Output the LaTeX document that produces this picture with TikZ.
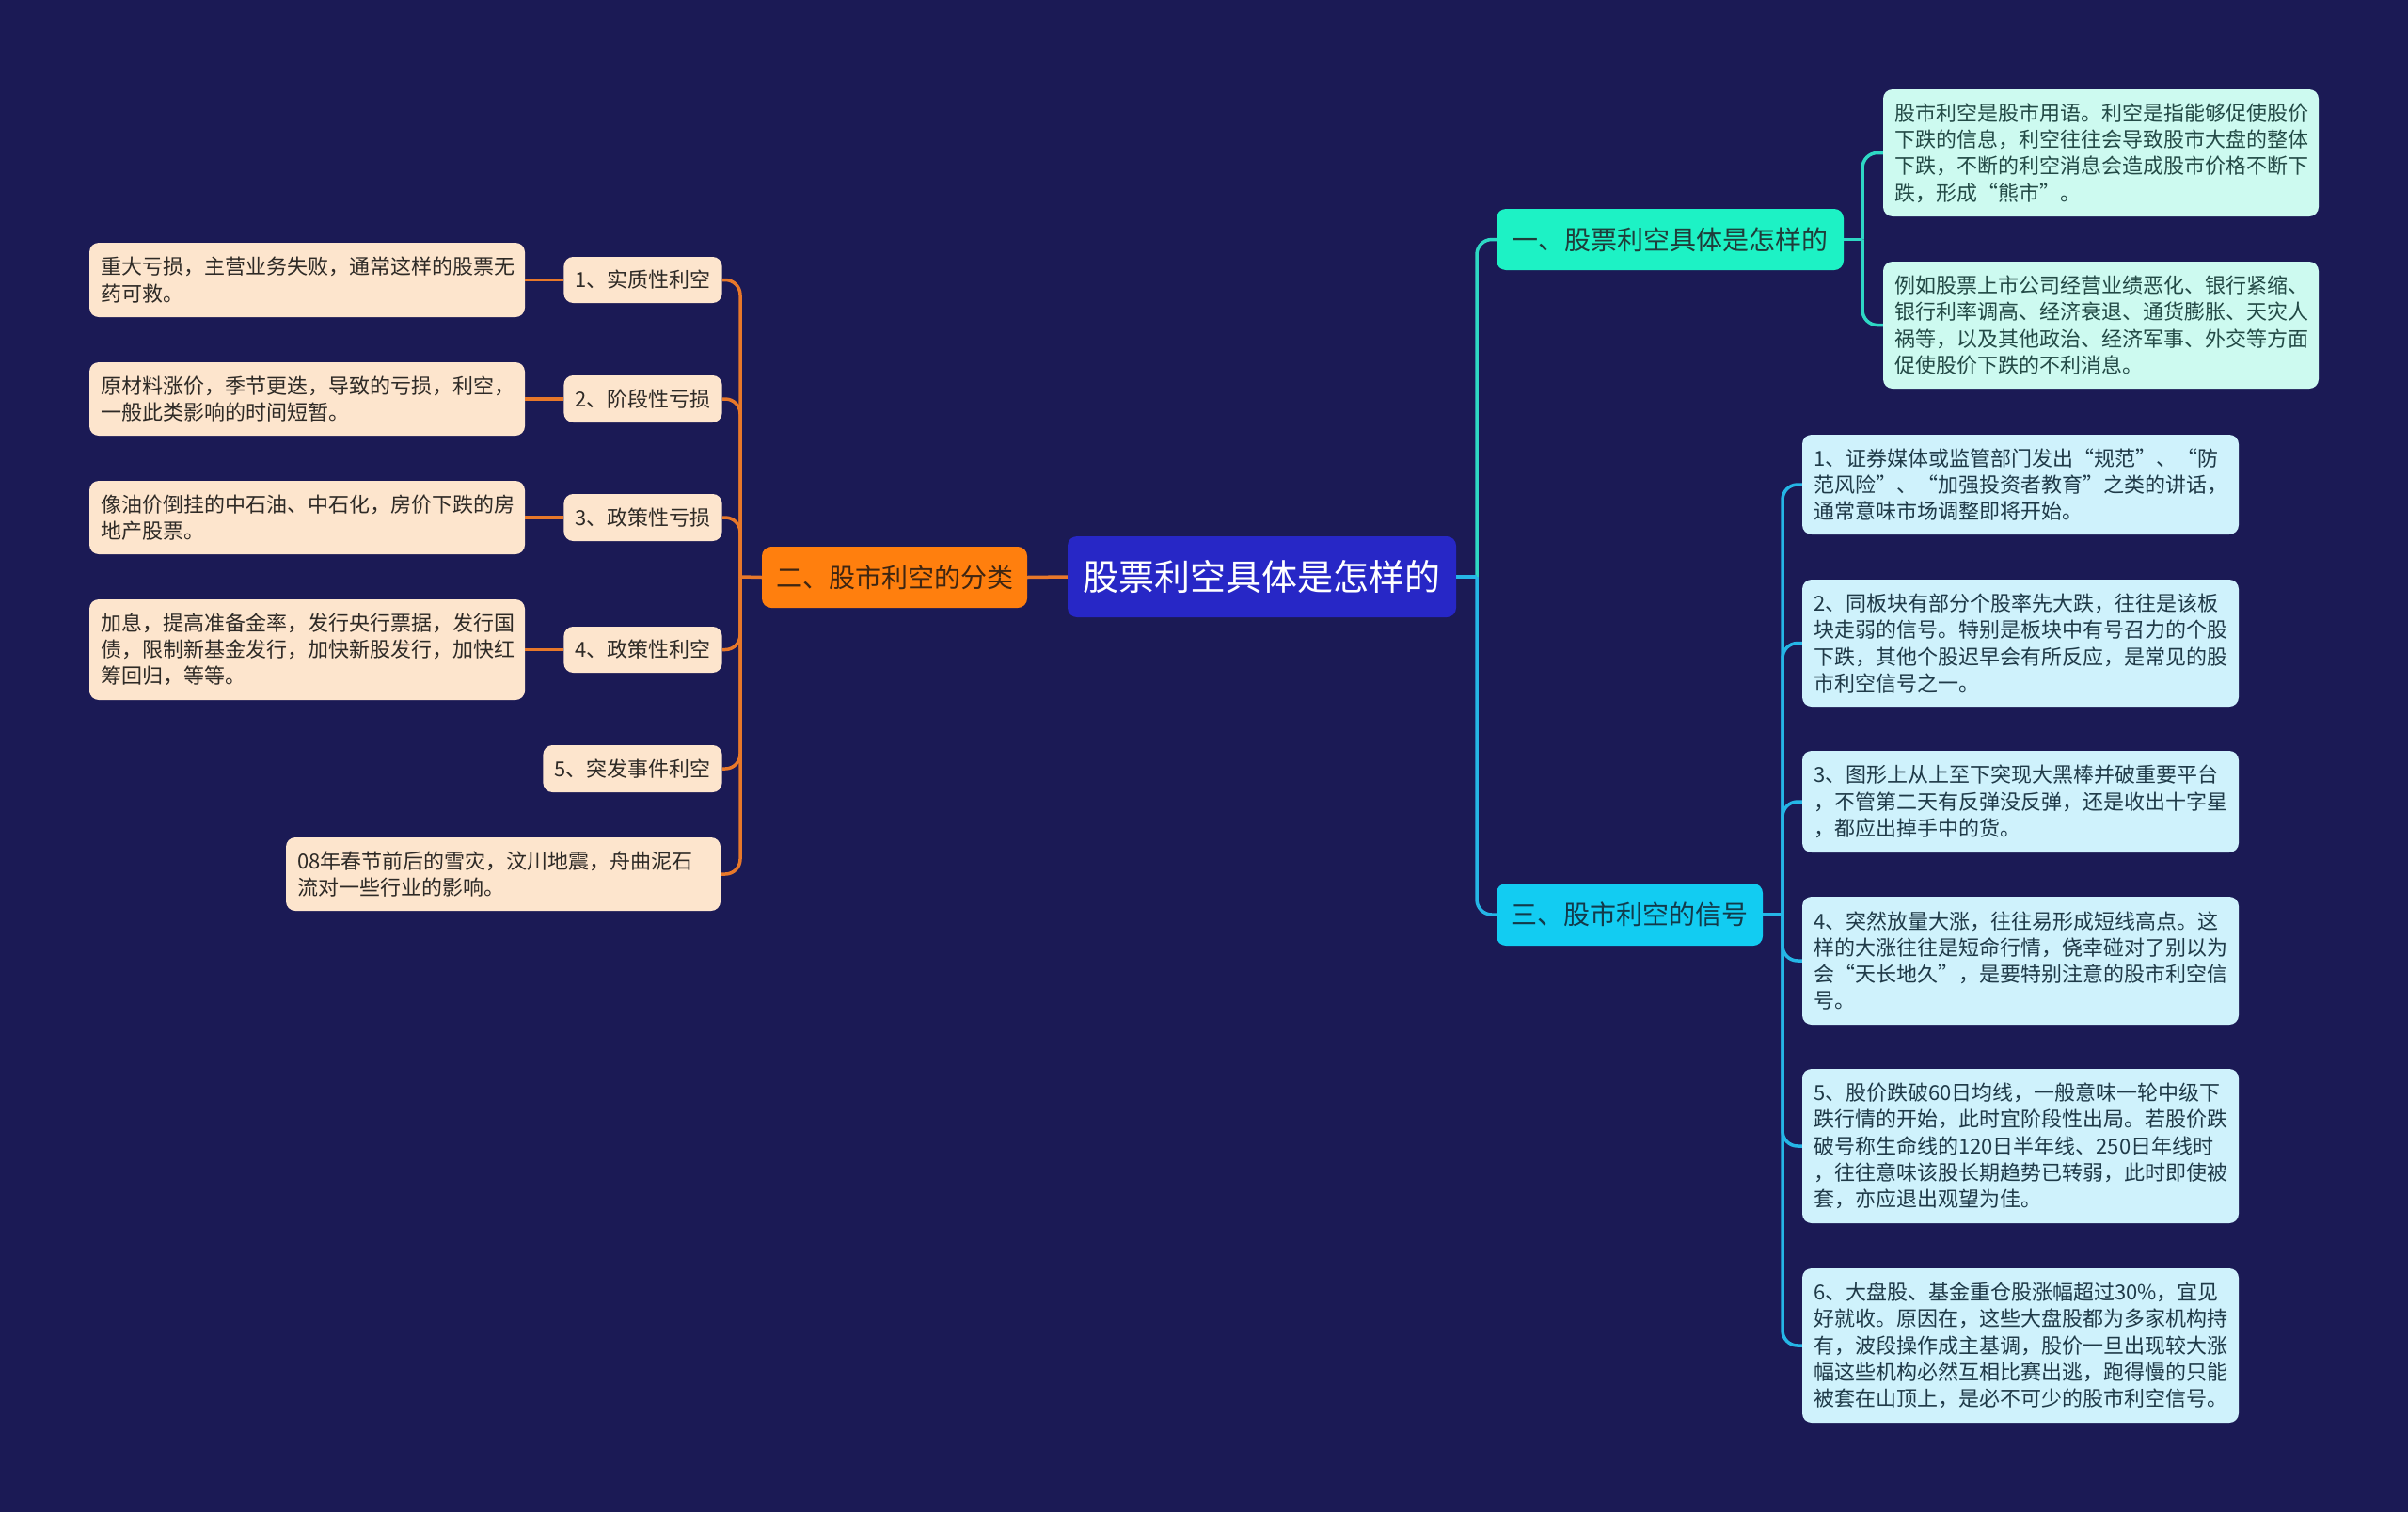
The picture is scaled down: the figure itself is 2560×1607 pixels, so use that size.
\documentclass[tikz,border=0pt]{standalone}
\usepackage{fontspec}
\setmainfont{Noto Sans CJK SC}
\definecolor{bgc}{HTML}{1B1A55}
\definecolor{rootc}{HTML}{2727C6}
\definecolor{orgc}{HTML}{FF7F0E}
\definecolor{orgtxt}{HTML}{3F2612}
\definecolor{orgleaf}{HTML}{FDE5CD}
\definecolor{orgline}{HTML}{E8782A}
\definecolor{leaftxt}{HTML}{2E2A26}
\definecolor{tealc}{HTML}{1DF2C5}
\definecolor{tealtxt}{HTML}{1F3D3A}
\definecolor{tealleaf}{HTML}{CDFAF0}
\definecolor{tealleaftxt}{HTML}{234A46}
\definecolor{tealline}{HTML}{2ED8C4}
\definecolor{bluec}{HTML}{12CCF2}
\definecolor{bluetxt}{HTML}{123A4A}
\definecolor{blueleaf}{HTML}{CFF2FC}
\definecolor{blueleaftxt}{HTML}{1F3A48}
\definecolor{blueline}{HTML}{25B6E6}
\tikzset{
  boxbase/.style={rounded corners=10pt, inner xsep=12pt, inner ysep=0pt},
  rootbox/.style={boxbase, fill=rootc, text=white, font={\fontsize{38}{44}\selectfont}, align=center},
  catbox/.style={boxbase, font={\fontsize{28}{34}\selectfont}, align=center},
  subbox/.style={boxbase, fill=orgleaf, text=leaftxt, font={\fontsize{22}{28}\selectfont}, align=center},
  leafbox/.style={boxbase, font={\fontsize{22}{28.3}\selectfont}, align=left},
  oleaf/.style={leafbox, fill=orgleaf, text=leaftxt},
  tleaf/.style={leafbox, fill=tealleaf, text=tealleaftxt},
  bleaf/.style={leafbox, fill=blueleaf, text=blueleaftxt},
  oline/.style={draw=orgline, line width=3.5pt},
  tline/.style={draw=tealline, line width=3.5pt},
  bline/.style={draw=blueline, line width=3.5pt},
  rc/.style={rounded corners=16pt}
}
\begin{document}
\begin{tikzpicture}[x=1pt,y=-1pt]
\useasboundingbox (0,0) rectangle (2560,1607);
\fill[bgc] (0,0) rectangle (2560,1607);

% root
\node[rootbox, minimum width=413pt, minimum height=86pt] (root) at (1341.5,613) {股票利空具体是怎样的};

% left category
\node[catbox, fill=orgc, text=orgtxt, minimum width=282pt, minimum height=65pt] (er) at (951,613.5) {二、股市利空的分类};

\node[subbox, minimum width=165pt, minimum height=49pt] (n1) at (683.5,297.5) {1、实质性利空};
\node[subbox, minimum width=165pt, minimum height=50pt] (n2) at (683.5,424) {2、阶段性亏损};
\node[subbox, minimum width=165pt, minimum height=50pt] (n3) at (683.5,550) {3、政策性亏损};
\node[subbox, minimum width=165pt, minimum height=49pt] (n4) at (683.5,690.5) {4、政策性利空};
\node[subbox, minimum width=187pt, minimum height=50pt] (n5) at (672.5,817) {5、突发事件利空};

\node[oleaf, text width=439pt, minimum height=79pt] (l1) at (326.5,297.5) {重大亏损，主营业务失败，通常这样的股票无\\药可救。};
\node[oleaf, text width=439pt, minimum height=78pt] (l2) at (326.5,424) {原材料涨价，季节更迭，导致的亏损，利空，\\一般此类影响的时间短暂。};
\node[oleaf, text width=439pt, minimum height=78pt] (l3) at (326.5,550) {像油价倒挂的中石油、中石化，房价下跌的房\\地产股票。};
\node[oleaf, text width=439pt, minimum height=107pt] (l4) at (326.5,690.5) {加息，提高准备金率，发行央行票据，发行国\\债，限制新基金发行，加快新股发行，加快红\\筹回归，等等。};
\node[oleaf, text width=438pt, minimum height=78pt] (l6) at (535,929) {08年春节前后的雪灾，汶川地震，舟曲泥石\\流对一些行业的影响。};

% right categories
\node[catbox, fill=tealc, text=tealtxt, minimum width=369pt, minimum height=65pt] (one) at (1775.5,254.5) {一、股票利空具体是怎样的};
\node[catbox, fill=bluec, text=bluetxt, minimum width=283pt, minimum height=66pt] (three) at (1732.5,972) {三、股市利空的信号};

\node[tleaf, text width=439pt, minimum height=135pt] (ta) at (2233.5,162.5) {股市利空是股市用语。利空是指能够促使股价\\下跌的信息，利空往往会导致股市大盘的整体\\下跌，不断的利空消息会造成股市价格不断下\\跌，形成“熊市”。};
\node[tleaf, text width=439pt, minimum height=135pt] (tb) at (2233.5,345.5) {例如股票上市公司经营业绩恶化、银行紧缩、\\银行利率调高、经济衰退、通货膨胀、天灾人\\祸等，以及其他政治、经济军事、外交等方面\\促使股价下跌的不利消息。};

\node[bleaf, text width=440pt, minimum height=106pt] (s1) at (2148,515) {1、证券媒体或监管部门发出“规范”、“防\\范风险”、“加强投资者教育”之类的讲话，\\通常意味市场调整即将开始。};
\node[bleaf, text width=440pt, minimum height=135pt] (s2) at (2148,683.5) {2、同板块有部分个股率先大跌，往往是该板\\块走弱的信号。特别是板块中有号召力的个股\\下跌，其他个股迟早会有所反应，是常见的股\\市利空信号之一。};
\node[bleaf, text width=440pt, minimum height=108pt] (s3) at (2148,852) {3、图形上从上至下突现大黑棒并破重要平台\\，不管第二天有反弹没反弹，还是收出十字星\\，都应出掉手中的货。};
\node[bleaf, text width=440pt, minimum height=136pt] (s4) at (2148,1021) {4、突然放量大涨，往往易形成短线高点。这\\样的大涨往往是短命行情，侥幸碰对了别以为\\会“天长地久”，是要特别注意的股市利空信\\号。};
\node[bleaf, text width=440pt, minimum height=164pt] (s5) at (2148,1218) {5、股价跌破60日均线，一般意味一轮中级下\\跌行情的开始，此时宜阶段性出局。若股价跌\\破号称生命线的120日半年线、250日年线时\\，往往意味该股长期趋势已转弱，此时即使被\\套，亦应退出观望为佳。};
\node[bleaf, text width=440pt, minimum height=164pt] (s6) at (2148,1430) {6、大盘股、基金重仓股涨幅超过30\%，宜见\\好就收。原因在，这些大盘股都为多家机构持\\有，波段操作成主基调，股价一旦出现较大涨\\幅这些机构必然互相比赛出逃，跑得慢的只能\\被套在山顶上，是必不可少的股市利空信号。};

% left connectors
\coordinate (oj) at (787,613);
\draw[oline] (root.west) -- (er.east);
\draw[oline] (er.west) -- (oj);
\foreach \c in {n1,n2,n3,n4,n5,l6} \draw[oline, rc] (oj) |- (\c.east);
\draw[oline] (l1.east) -- (n1.west);
\draw[oline] (l2.east) -- (n2.west);
\draw[oline] (l3.east) -- (n3.west);
\draw[oline] (l4.east) -- (n4.west);

% right connectors
\coordinate (cj) at (1570,613);
\draw[tline, rc] (cj) |- (one.west);
\draw[bline, rc] (cj) |- (three.west);
\draw[bline] (root.east) -- (cj);
\coordinate (tj1) at (1980,254.5);
\draw[tline] (one.east) -- (tj1);
\foreach \c in {ta,tb} \draw[tline, rc] (tj1) |- (\c.west);
\coordinate (tj3) at (1895,972);
\draw[bline] (three.east) -- (tj3);
\foreach \c in {s1,s2,s3,s4,s5,s6} \draw[bline, rc] (tj3) |- (\c.west);
\end{tikzpicture}
\end{document}
